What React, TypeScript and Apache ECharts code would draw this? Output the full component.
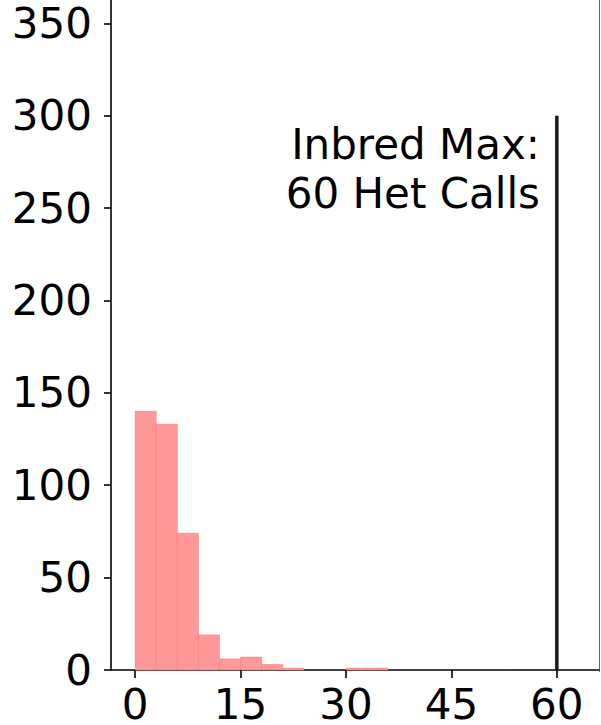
import React, { useEffect, useRef } from "react";
import * as echarts from "echarts";

const binStarts = [0, 3, 6, 9, 12, 15, 18, 21, 24, 27, 30, 33];
const binWidth = 3;
const binCounts = [140, 133, 74, 19, 6, 7, 3, 1, 0, 0, 1, 1];
const xTicks = [0, 15, 30, 45, 60];
const yTicks = [0, 50, 100, 150, 200, 250, 300, 350];
const inbredMax = 60;
const inbredLineTop = 300;
const annotationLines = ["Inbred Max:", "60 Het Calls"];

const FONT = "DejaVu Sans";
const FS = 42;

export default function App() {
  const ref = useRef<HTMLDivElement>(null);
  useEffect(() => {
    if (!ref.current) return;
    const chart = echarts.init(ref.current, undefined, { renderer: "svg" });
    const hist = binStarts.map((s, i) => [s, s + binWidth, binCounts[i]]);
    chart.setOption({
      animation: false,
      backgroundColor: "#ffffff",
      grid: { left: 111, right: 2, top: 0, bottom: 53 },
      xAxis: {
        type: "value",
        min: -3.44,
        max: 66,
        splitLine: { show: false },
        axisLine: { show: true, onZero: false, lineStyle: { color: "#000", width: 1.6 } },
        axisTick: { show: true, length: 8, customValues: xTicks, lineStyle: { color: "#000", width: 1.6 } },
        axisLabel: {
          customValues: xTicks,
          color: "#000",
          fontSize: FS,
          fontFamily: FONT,
          margin: 13,
        },
      },
      yAxis: {
        type: "value",
        min: 0,
        max: 362.6,
        splitLine: { show: false },
        axisLine: { show: true, onZero: false, lineStyle: { color: "#000", width: 1.6 } },
        axisTick: { show: true, length: 7, customValues: yTicks, lineStyle: { color: "#000", width: 1.6 } },
        axisLabel: {
          customValues: yTicks,
          color: "#000",
          fontSize: FS,
          fontFamily: FONT,
          margin: 19,
        },
      },
      series: [
        {
          type: "custom",
          data: hist,
          encode: { x: [0, 1], y: 2 },
          renderItem: (params: any, api: any) => {
            const x0 = api.value(0);
            const x1 = api.value(1);
            const h = api.value(2);
            if (h <= 0) return null;
            const p0 = api.coord([x0, h]);
            const p1 = api.coord([x1, 0]);
            return {
              type: "rect",
              shape: { x: p0[0], y: p0[1], width: p1[0] - p0[0], height: p1[1] - p0[1] },
              style: { fill: "#ff9999", stroke: "#ff7070", lineWidth: 0.5 },
            };
          },
          z: 2,
        },
        {
          type: "line",
          data: [
            [inbredMax, 0],
            [inbredMax, inbredLineTop],
          ],
          symbol: "none",
          lineStyle: { color: "#1a1a1a", width: 3.5 },
          z: 3,
        },
      ],
      graphic: [
        {
          type: "line",
          shape: { x1: 599.5, y1: 0, x2: 599.5, y2: 672 },
          style: { stroke: "#666", lineWidth: 1 },
        },
        {
          type: "text",
          x: 540,
          y: 123,
          style: {
            text: annotationLines[0],
            fontSize: FS,
            fontFamily: FONT,
            fill: "#000",
            align: "right",
            verticalAlign: "alphabetic",
          },
        },
        {
          type: "text",
          x: 540,
          y: 172,
          style: {
            text: annotationLines[1],
            fontSize: FS,
            fontFamily: FONT,
            fill: "#000",
            align: "right",
            verticalAlign: "alphabetic",
          },
        },
      ],
    });
    return () => chart.dispose();
  }, []);
  return (
    <div
      ref={ref}
      style={{ position: "fixed", left: 0, top: 0, width: 601, height: 725 }}
    />
  );
}
